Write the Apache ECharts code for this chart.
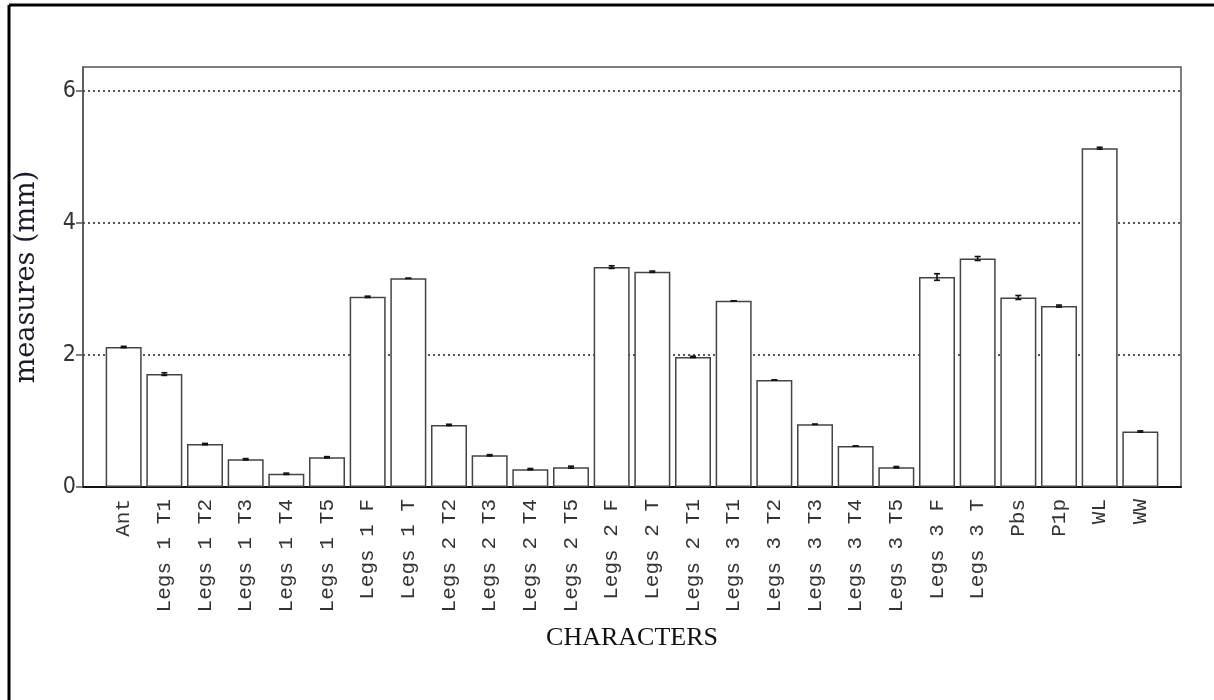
<!DOCTYPE html>
<html>
<head>
<meta charset="utf-8">
<script src="https://cdn.jsdelivr.net/npm/echarts@6/dist/echarts.min.js"></script>
<style>
  html, body { margin: 0; padding: 0; background: #fff; }
  #chart { width: 1214px; height: 700px; }
</style>
</head>
<body>
<div id="chart"></div>
<script>
// Morphometric characters: mean measure (mm) with standard error
const categories = [
  'Ant', 'Legs 1 T1', 'Legs 1 T2', 'Legs 1 T3', 'Legs 1 T4', 'Legs 1 T5',
  'Legs 1 F', 'Legs 1 T', 'Legs 2 T2', 'Legs 2 T3', 'Legs 2 T4', 'Legs 2 T5',
  'Legs 2 F', 'Legs 2 T', 'Legs 2 T1', 'Legs 3 T1', 'Legs 3 T2', 'Legs 3 T3',
  'Legs 3 T4', 'Legs 3 T5', 'Legs 3 F', 'Legs 3 T', 'Pbs', 'P1p', 'WL', 'WW'
];
const means = [
  2.12, 1.71, 0.65, 0.42, 0.20, 0.45,
  2.88, 3.16, 0.94, 0.48, 0.27, 0.30,
  3.33, 3.26, 1.97, 2.82, 1.62, 0.95,
  0.62, 0.30, 3.18, 3.46, 2.87, 2.74, 5.13, 0.84
];
const errors = [
  0.01, 0.02, 0.01, 0.01, 0.01, 0.01,
  0.01, 0.00, 0.01, 0.01, 0.01, 0.015,
  0.02, 0.01, 0.01, 0.00, 0.00, 0.00,
  0.00, 0.01, 0.05, 0.03, 0.03, 0.015, 0.015, 0.01
];
const yTicks = [0, 2, 4, 6];

const chart = echarts.init(document.getElementById('chart'), null, { renderer: 'canvas' });

const barData = means.map((v, i) => [i + 1, v]);
const errData = means.map((v, i) => [i + 1, v - errors[i], v + errors[i]]);

function renderErrorBar(params, api) {
  const x = api.value(0);
  const lo = api.coord([x, api.value(1)]);
  const hi = api.coord([x, api.value(2)]);
  const cap = 3;
  const style = { stroke: '#111', lineWidth: 1.6 };
  return {
    type: 'group',
    children: [
      { type: 'line', shape: { x1: lo[0], y1: lo[1], x2: hi[0], y2: hi[1] }, style },
      { type: 'line', shape: { x1: lo[0] - cap, y1: lo[1], x2: lo[0] + cap, y2: lo[1] }, style },
      { type: 'line', shape: { x1: hi[0] - cap, y1: hi[1], x2: hi[0] + cap, y2: hi[1] }, style }
    ]
  };
}

chart.setOption({
  animation: false,
  backgroundColor: '#fff',
  grid: {
    left: 83, right: 33, top: 67, bottom: 213,
    show: true, borderColor: '#555', borderWidth: 1.5, backgroundColor: 'transparent'
  },
  xAxis: {
    type: 'value',
    min: 0,
    max: categories.length + 1,
    interval: 1,
    name: 'CHARACTERS',
    nameLocation: 'middle',
    nameGap: 138,
    nameTextStyle: { fontFamily: 'Liberation Serif', fontSize: 26, color: '#111' },
    axisLine: { show: true, onZero: false, lineStyle: { color: '#111', width: 2 } },
    axisTick: { show: false },
    splitLine: { show: false },
    axisLabel: {
      rotate: 90,
      margin: 12,
      fontFamily: 'Liberation Mono',
      fontSize: 21,
      color: '#333',
      showMinLabel: false,
      showMaxLabel: false,
      formatter: v => categories[v - 1] || ''
    }
  },
  yAxis: {
    type: 'value',
    min: 0,
    max: 6.36,
    interval: 2,
    name: 'measures (mm)',
    nameLocation: 'middle',
    nameGap: 43,
    nameTextStyle: { fontFamily: 'DejaVu Serif', fontSize: 27, color: '#1a1a2a' },
    axisLine: { show: true, lineStyle: { color: '#555', width: 1.5 } },
    axisTick: {
      show: true, inside: false, length: 7,
      customValues: yTicks,
      lineStyle: { color: '#555', width: 1.5 }
    },
    axisLabel: {
      customValues: yTicks,
      margin: 7,
      fontFamily: 'Liberation Sans Narrow, DejaVu Sans Condensed, sans-serif',
      fontSize: 23,
      color: '#333'
    },
    splitLine: {
      show: true,
      lineStyle: { color: '#222', width: 1.5, type: [2, 3] }
    }
  },
  series: [
    {
      type: 'bar',
      data: barData,
      barWidth: 36,
      itemStyle: { color: '#fff', borderColor: '#444', borderWidth: 1.5 },
      z: 2
    },
    {
      type: 'custom',
      data: errData,
      renderItem: renderErrorBar,
      encode: { x: 0, y: [1, 2] },
      z: 3
    }
  ],
  graphic: [
    { type: 'line', shape: { x1: 9, y1: 5, x2: 1214, y2: 5 }, style: { stroke: '#000', lineWidth: 3 } },
    { type: 'line', shape: { x1: 9, y1: 5, x2: 9, y2: 700 }, style: { stroke: '#000', lineWidth: 3 } }
  ]
});
</script>
</body>
</html>
